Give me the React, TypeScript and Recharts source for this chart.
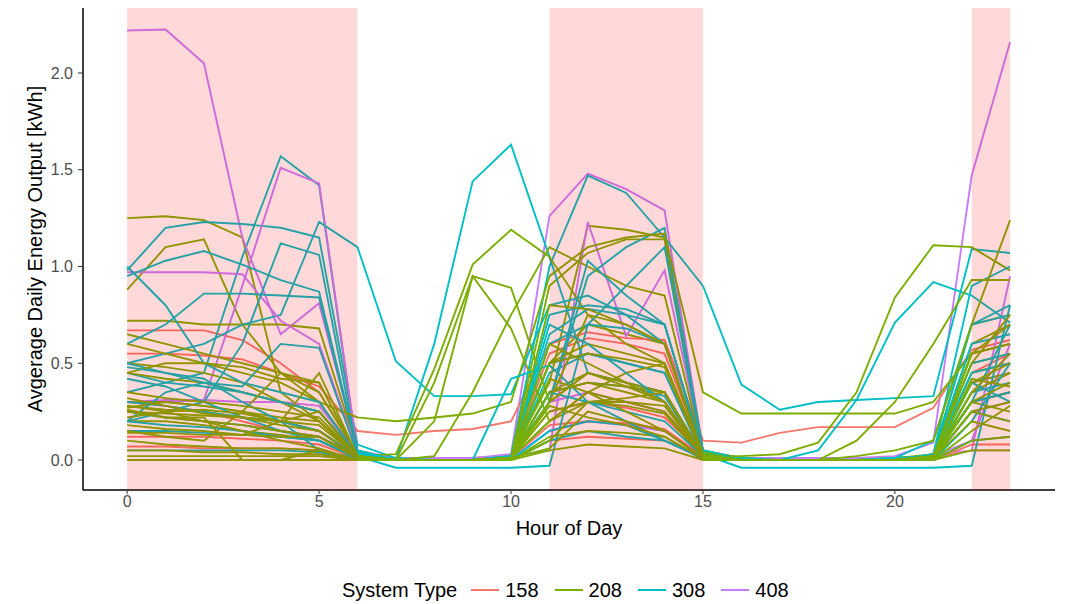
import React from 'react';
import { LineChart, Line, XAxis, YAxis, ReferenceArea } from 'recharts';

const hours = [0, 1, 2, 3, 4, 5, 6, 7, 8, 9, 10, 11, 12, 13, 14, 15, 16, 17, 18, 19, 20, 21, 22, 23];

// one row per installed system, 24 hourly averages each
const sys158 = [
  [0.67, 0.67, 0.67, 0.62, 0.5, 0.35, 0.03, 0.01, 0.01, 0.01, 0.02, 0.55, 0.63, 0.6, 0.55, 0.04, 0.01, 0.01, 0.01, 0.01, 0.01, 0.02, 0.45, 0.55],
  [0.55, 0.55, 0.54, 0.52, 0.45, 0.38, 0.15, 0.13, 0.15, 0.16, 0.2, 0.6, 0.66, 0.63, 0.62, 0.1, 0.09, 0.14, 0.17, 0.17, 0.17, 0.27, 0.57, 0.62],
  [0.3, 0.28, 0.25, 0.2, 0.15, 0.12, 0.02, 0.0, 0.0, 0.0, 0.01, 0.25, 0.3, 0.27, 0.22, 0.03, 0.0, 0.0, 0.0, 0.0, 0.0, 0.01, 0.3, 0.35],
  [0.07, 0.07, 0.06, 0.06, 0.06, 0.05, 0.01, 0.0, 0.0, 0.0, 0.0, 0.1, 0.12, 0.11, 0.1, 0.01, 0.0, 0.0, 0.0, 0.0, 0.0, 0.0, 0.08, 0.08],
  [0.12, 0.12, 0.12, 0.11, 0.1, 0.08, 0.01, 0.0, 0.0, 0.0, 0.01, 0.18, 0.2, 0.19, 0.16, 0.02, 0.0, 0.0, 0.0, 0.0, 0.0, 0.01, 0.05, 0.05],
];

const sys208 = [
  [1.25, 1.26, 1.24, 1.15, 0.35, 0.2, 0.02, 0.0, 0.01, 0.01, 0.02, 0.5, 0.7, 0.65, 0.6, 0.03, 0.0, 0.0, 0.0, 0.0, 0.01, 0.02, 0.6, 0.7],
  [0.88, 1.1, 1.14, 0.7, 0.45, 0.3, 0.03, 0.0, 0.0, 0.0, 0.02, 0.4, 1.21, 1.19, 1.15, 0.04, 0.0, 0.0, 0.0, 0.0, 0.01, 0.02, 0.55, 0.6],
  [0.72, 0.72, 0.7, 0.7, 0.7, 0.68, 0.05, 0.0, 0.0, 0.0, 0.02, 0.9, 1.07, 1.14, 1.14, 0.05, 0.01, 0.0, 0.0, 0.0, 0.01, 0.03, 0.7, 0.75],
  [0.65, 0.6, 0.55, 0.5, 0.45, 0.35, 0.03, 0.0, 0.0, 0.0, 0.01, 0.35, 0.45, 0.4, 0.35, 0.02, 0.02, 0.03, 0.09, 0.35, 0.84, 1.11, 1.1, 0.98],
  [0.5, 0.48, 0.45, 0.4, 0.3, 0.2, 0.02, 0.03, 0.47, 1.01, 1.19, 1.05, 0.75, 0.6, 0.5, 0.03, 0.0, 0.0, 0.0, 0.0, 0.0, 0.02, 0.5, 0.55],
  [0.45, 0.42, 0.4, 0.35, 0.3, 0.25, 0.02, 0.0, 0.2, 0.95, 0.89, 0.3, 0.45, 0.4, 0.35, 0.02, 0.0, 0.0, 0.0, 0.0, 0.0, 0.02, 0.4, 0.45],
  [0.3, 0.3, 0.28, 0.25, 0.2, 0.15, 0.02, 0.0, 0.4, 0.95, 0.68, 0.2, 0.3, 0.3, 0.25, 0.02, 0.0, 0.0, 0.0, 0.0, 0.0, 0.02, 0.3, 0.35],
  [0.28, 0.26, 0.25, 0.22, 0.2, 0.15, 0.02, 0.0, 0.02, 0.35, 0.75, 1.1, 1.0, 0.9, 0.85, 0.04, 0.0, 0.0, 0.0, 0.0, 0.0, 0.02, 0.45, 0.5],
  [0.6, 0.55, 0.5, 0.45, 0.4, 0.3, 0.22, 0.2, 0.22, 0.24, 0.3, 0.95, 1.1, 1.15, 1.17, 0.35, 0.24, 0.24, 0.24, 0.24, 0.24, 0.3, 0.55, 0.6],
  [0.25, 0.24, 0.23, 0.22, 0.2, 0.18, 0.02, 0.0, 0.0, 0.0, 0.01, 0.5, 0.6, 0.55, 0.5, 0.02, 0.0, 0.0, 0.0, 0.02, 0.05, 0.1, 0.7, 1.24],
  [0.27, 0.3, 0.28, 0.25, 0.22, 0.2, 0.02, 0.0, 0.0, 0.0, 0.01, 0.35, 0.4, 0.38, 0.35, 0.02, 0.0, 0.0, 0.0, 0.0, 0.0, 0.02, 0.55, 0.6],
  [0.2, 0.2, 0.18, 0.15, 0.13, 0.1, 0.01, 0.0, 0.0, 0.0, 0.01, 0.25, 0.3, 0.28, 0.24, 0.01, 0.0, 0.0, 0.0, 0.0, 0.0, 0.01, 0.35, 0.45],
  [0.0, 0.0, 0.0, 0.0, 0.0, 0.0, 0.0, 0.0, 0.0, 0.0, 0.0, 0.05, 0.08, 0.07, 0.06, 0.0, 0.0, 0.0, 0.0, 0.0, 0.0, 0.0, 0.05, 0.05],
  [0.02, 0.02, 0.02, 0.02, 0.02, 0.02, 0.0, 0.0, 0.0, 0.0, 0.0, 0.12, 0.15, 0.14, 0.12, 0.0, 0.0, 0.0, 0.0, 0.0, 0.0, 0.0, 0.1, 0.12],
  [0.45, 0.5, 0.5, 0.48, 0.42, 0.4, 0.02, 0.0, 0.0, 0.0, 0.01, 0.3, 0.75, 0.7, 0.6, 0.02, 0.0, 0.0, 0.0, 0.0, 0.0, 0.02, 0.3, 0.25],
  [0.15, 0.12, 0.1, 0.25, 0.45, 0.4, 0.02, 0.0, 0.0, 0.0, 0.01, 0.2, 0.35, 0.45, 0.5, 0.02, 0.0, 0.0, 0.0, 0.1, 0.3, 0.6, 0.93, 0.93],
  [0.1, 0.08, 0.07, 0.06, 0.06, 0.05, 0.0, 0.0, 0.0, 0.0, 0.01, 0.35, 0.4, 0.35, 0.3, 0.01, 0.0, 0.0, 0.0, 0.0, 0.0, 0.01, 0.2, 0.15],
  [0.35, 0.32, 0.3, 0.28, 0.25, 0.22, 0.02, 0.0, 0.0, 0.0, 0.01, 0.8, 0.78, 0.7, 0.6, 0.03, 0.0, 0.0, 0.0, 0.0, 0.0, 0.02, 0.4, 0.5],
  [0.25, 0.22, 0.2, 0.18, 0.15, 0.12, 0.01, 0.0, 0.0, 0.0, 0.01, 0.5, 0.55, 0.52, 0.48, 0.02, 0.0, 0.0, 0.0, 0.0, 0.0, 0.01, 0.25, 0.3],
  [0.28, 0.25, 0.2, 0.15, 0.1, 0.06, 0.0, 0.0, 0.0, 0.0, 0.01, 0.42, 0.35, 0.25, 0.15, 0.01, 0.0, 0.0, 0.0, 0.0, 0.0, 0.01, 0.3, 0.4],
  [0.22, 0.25, 0.26, 0.24, 0.2, 0.45, 0.02, 0.0, 0.0, 0.0, 0.01, 0.3, 0.45, 0.38, 0.3, 0.02, 0.0, 0.0, 0.0, 0.0, 0.0, 0.02, 0.55, 0.7],
  [0.18, 0.16, 0.15, 0.13, 0.2, 0.25, 0.02, 0.0, 0.0, 0.0, 0.01, 0.2, 0.35, 0.3, 0.28, 0.02, 0.0, 0.0, 0.0, 0.0, 0.0, 0.01, 0.25, 0.2],
  [0.05, 0.05, 0.04, 0.04, 0.03, 0.03, 0.0, 0.0, 0.0, 0.0, 0.01, 0.06, 0.25, 0.2, 0.15, 0.01, 0.0, 0.0, 0.0, 0.0, 0.0, 0.0, 0.15, 0.28],
  [0.32, 0.28, 0.24, 0.22, 0.18, 0.15, 0.01, 0.0, 0.0, 0.0, 0.01, 0.6, 0.5, 0.4, 0.3, 0.02, 0.0, 0.0, 0.0, 0.0, 0.0, 0.02, 0.5, 0.75],
  [0.26, 0.22, 0.22, 0.0, 0.0, 0.05, 0.0, 0.0, 0.0, 0.0, 0.0, 0.1, 0.3, 0.32, 0.35, 0.01, 0.0, 0.0, 0.0, 0.0, 0.0, 0.0, 0.35, 0.55],
  [0.14, 0.14, 0.13, 0.13, 0.12, 0.12, 0.01, 0.0, 0.0, 0.0, 0.01, 0.28, 0.22, 0.18, 0.12, 0.01, 0.0, 0.0, 0.0, 0.0, 0.0, 0.01, 0.42, 0.38],
];

const sys308 = [
  [0.35, 0.4, 0.45, 1.05, 1.57, 1.42, 0.03, 0.0, 0.0, 0.0, 0.01, 0.45, 0.55, 0.5, 0.45, 0.02, 0.0, 0.0, 0.0, 0.0, 0.0, 0.02, 0.4, 0.45],
  [0.98, 1.2, 1.23, 1.22, 1.2, 1.15, 0.08, 0.01, 0.0, 0.0, 0.02, 1.0, 1.47, 1.38, 1.15, 0.9, 0.39, 0.26, 0.3, 0.31, 0.32, 0.33, 1.09, 1.07],
  [0.5, 0.55, 0.6, 0.7, 0.75, 1.23, 1.1, 0.51, 0.33, 0.33, 0.34, 0.8, 0.85, 0.75, 0.6, 0.05, 0.01, 0.0, 0.0, 0.0, 0.01, 0.02, 0.7, 0.8],
  [0.45, 0.4, 0.38, 0.35, 0.3, 0.25, 0.03, 0.0, 0.6, 1.44, 1.63, 1.05, 0.45, 0.4, 0.35, 0.03, 0.0, 0.0, 0.0, 0.0, 0.0, 0.02, 0.35, 0.4],
  [0.95, 1.03, 1.08, 1.01, 0.93, 0.87, 0.05, 0.0, 0.0, 0.0, 0.02, 0.75, 0.8, 0.78, 0.7, 0.04, 0.0, 0.0, 0.0, 0.0, 0.01, 0.1, 0.7, 0.75],
  [0.2, 0.25, 0.3, 0.6, 1.12, 1.06, 0.04, 0.0, 0.0, 0.0, 0.02, 0.3, 0.95, 1.1, 1.2, 0.05, 0.0, 0.0, 0.0, 0.0, 0.0, 0.03, 0.9, 1.0],
  [0.6, 0.7, 0.86, 0.86, 0.85, 0.84, 0.04, 0.0, 0.0, 0.0, 0.01, 0.6, 0.7, 0.68, 0.6, 0.03, 0.0, 0.0, 0.0, 0.0, 0.0, 0.02, 0.5, 0.55],
  [0.3, 0.28, 0.25, 0.22, 0.2, 0.15, 0.02, 0.0, 0.0, 0.0, 0.01, 0.35, 0.4, 0.38, 0.33, 0.02, 0.0, 0.0, 0.05, 0.31, 0.71, 0.92, 0.85, 0.71],
  [0.5, 0.45, 0.4, 0.35, 0.3, 0.25, 0.02, -0.04, -0.04, -0.04, -0.04, -0.03, 0.7, 0.9, 1.1, 0.03, -0.04, -0.04, -0.04, -0.04, -0.04, -0.04, -0.03, 0.8],
  [0.25, 0.22, 0.2, 0.18, 0.15, 0.12, 0.02, 0.0, 0.0, 0.0, 0.01, 0.3, 1.03, 0.85, 0.7, 0.03, 0.0, 0.0, 0.0, 0.0, 0.0, 0.02, 0.3, 0.35],
  [0.15, 0.15, 0.14, 0.13, 0.12, 0.1, 0.01, 0.0, 0.0, 0.0, 0.01, 0.5, 0.55, 0.5, 0.45, 0.02, 0.0, 0.0, 0.0, 0.0, 0.0, 0.01, 0.25, 0.2],
  [0.05, 0.05, 0.05, 0.05, 0.05, 0.04, 0.0, 0.0, 0.0, 0.0, 0.0, 0.1, 0.15, 0.12, 0.1, 0.01, 0.0, 0.0, 0.0, 0.0, 0.0, 0.0, 0.1, 0.12],
  [1.0, 0.8, 0.5, 0.4, 0.35, 0.3, 0.02, 0.0, 0.0, 0.0, 0.01, 0.65, 0.78, 0.75, 0.7, 0.03, 0.0, 0.0, 0.0, 0.0, 0.0, 0.02, 0.45, 0.5],
  [0.2, 0.35, 0.4, 0.38, 0.6, 0.58, 0.03, 0.0, 0.0, 0.0, 0.42, 0.49, 0.3, 0.25, 0.2, 0.02, 0.0, 0.0, 0.0, 0.0, 0.0, 0.02, 0.6, 0.65],
  [0.42, 0.38, 0.3, 0.22, 0.15, 0.1, 0.01, 0.0, 0.0, 0.0, 0.01, 0.35, 0.3, 0.2, 0.1, 0.01, 0.0, 0.0, 0.0, 0.0, 0.0, 0.01, 0.4, 0.3],
  [0.2, 0.18, 0.17, 0.15, 0.12, 0.1, 0.01, 0.0, 0.0, 0.0, 0.0, 0.15, 0.2, 0.18, 0.1, 0.01, 0.0, 0.0, 0.0, 0.0, 0.0, 0.0, 0.2, 0.5],
  [0.48, 0.45, 0.42, 0.3, 0.2, 0.05, 0.01, 0.0, 0.0, 0.0, 0.01, 0.7, 0.6, 0.45, 0.3, 0.02, 0.0, 0.0, 0.0, 0.0, 0.0, 0.01, 0.3, 0.7],
];

const sys408 = [
  [2.22, 2.225, 2.05, 1.15, 0.65, 0.81, 0.05, 0.01, 0.01, 0.01, 0.03, 1.26, 1.48, 1.4, 1.29, 0.05, 0.01, 0.01, 0.01, 0.01, 0.02, 0.09, 1.47, 2.16],
  [0.3, 0.3, 0.31, 0.9, 1.51, 1.43, 0.04, 0.0, 0.0, 0.0, 0.02, 0.05, 1.23, 0.64, 0.98, 0.04, 0.0, 0.0, 0.0, 0.0, 0.0, 0.03, 0.05, 0.95],
  [0.97, 0.97, 0.97, 0.96, 0.72, 0.6, 0.04, 0.0, 0.0, 0.0, 0.02, 0.3, 0.35, 0.3, 0.25, 0.03, 0.0, 0.0, 0.0, 0.0, 0.0, 0.02, 0.1, 0.6],
  [0.3, 0.31, 0.31, 0.3, 0.3, 0.28, 0.03, 0.0, 0.0, 0.0, 0.01, 0.15, 0.2, 0.18, 0.15, 0.02, 0.0, 0.0, 0.0, 0.0, 0.0, 0.0, 0.25, 0.3],
];

const shaded = [[0, 6], [11, 15], [22, 23]];
const yTicks = [0, 0.5, 1, 1.5, 2];
const xTicks = [0, 5, 10, 15, 20];

const types = [
  { name: '158', color: '#F8766D', rows: sys158 },
  { name: '208', color: '#7CAE00', rows: sys208 },
  { name: '308', color: '#00BFC4', rows: sys308 },
  { name: '408', color: '#C77CFF', rows: sys408 },
];

// interleave the systems so no colour sits entirely on top
const series: { key: string; color: string; values: number[] }[] = [];
const maxRows = Math.max(...types.map((t) => t.rows.length));
for (let i = 0; i < maxRows; i++) {
  types.forEach((t) => {
    if (t.rows[i]) series.push({ key: `${t.name}_${i}`, color: t.color, values: t.rows[i] });
  });
}

const data = hours.map((h, i) => {
  const row: Record<string, number> = { hour: h };
  series.forEach((s) => (row[s.key] = s.values[i]));
  return row;
});

const font = '"Liberation Sans", Arial, Helvetica, sans-serif';

export default function App() {
  return (
    <div style={{ position: 'absolute', left: 0, top: 0, width: 1066, height: 604, background: '#fff', fontFamily: font }}>
      <LineChart width={1066} height={604} data={data} margin={{ top: 8, right: 11, bottom: 64, left: 0 }}>
        <XAxis
          dataKey="hour"
          type="number"
          domain={[-1.15, 24.17]}
          ticks={xTicks}
          allowDataOverflow
          height={50}
          stroke="#000"
          strokeWidth={1.5}
          tickSize={4}
          tickMargin={2}
          tick={{ fill: '#4D4D4D', fontSize: 16, fontFamily: font }}
          tickLine={{ stroke: '#333', strokeWidth: 1 }}
          label={{ value: 'Hour of Day', position: 'insideBottom', offset: 5, fill: '#000', fontSize: 20, fontFamily: font }}
        />
        <YAxis
          type="number"
          domain={[-0.155, 2.336]}
          ticks={yTicks}
          allowDataOverflow
          width={83}
          stroke="#000"
          strokeWidth={1.5}
          tickSize={5}
          tickMargin={5}
          tickFormatter={(v) => Number(v).toFixed(1)}
          tick={{ fill: '#4D4D4D', fontSize: 16, fontFamily: font }}
          tickLine={{ stroke: '#333', strokeWidth: 1 }}
          label={{
            value: 'Avgerage Daily Energy Output [kWh]',
            angle: -90,
            position: 'insideLeft',
            offset: 35,
            fill: '#000',
            fontSize: 20,
            fontFamily: font,
            style: { textAnchor: 'middle' },
          }}
        />
        {series.map((s) => (
          <Line
            key={s.key}
            dataKey={s.key}
            type="linear"
            stroke={s.color}
            strokeWidth={1.9}
            dot={false}
            activeDot={false}
            isAnimationActive={false}
          />
        ))}
        {shaded.map(([a, b]) => (
          <ReferenceArea key={a} x1={a} x2={b} fill="#FF0000" fillOpacity={0.15} stroke="none" zIndex={1000} />
        ))}
      </LineChart>
      <div
        style={{
          position: 'absolute',
          left: 342,
          top: 576,
          height: 28,
          display: 'flex',
          alignItems: 'center',
          fontSize: 20,
          color: '#000',
        }}
      >
        <span style={{ marginRight: 14 }}>System Type</span>
        {types.map((t) => (
          <span key={t.name} style={{ display: 'flex', alignItems: 'center', marginRight: 16 }}>
            <span style={{ display: 'inline-block', width: 28, height: 2, background: t.color, marginRight: 6 }} />
            <span>{t.name}</span>
          </span>
        ))}
      </div>
    </div>
  );
}
